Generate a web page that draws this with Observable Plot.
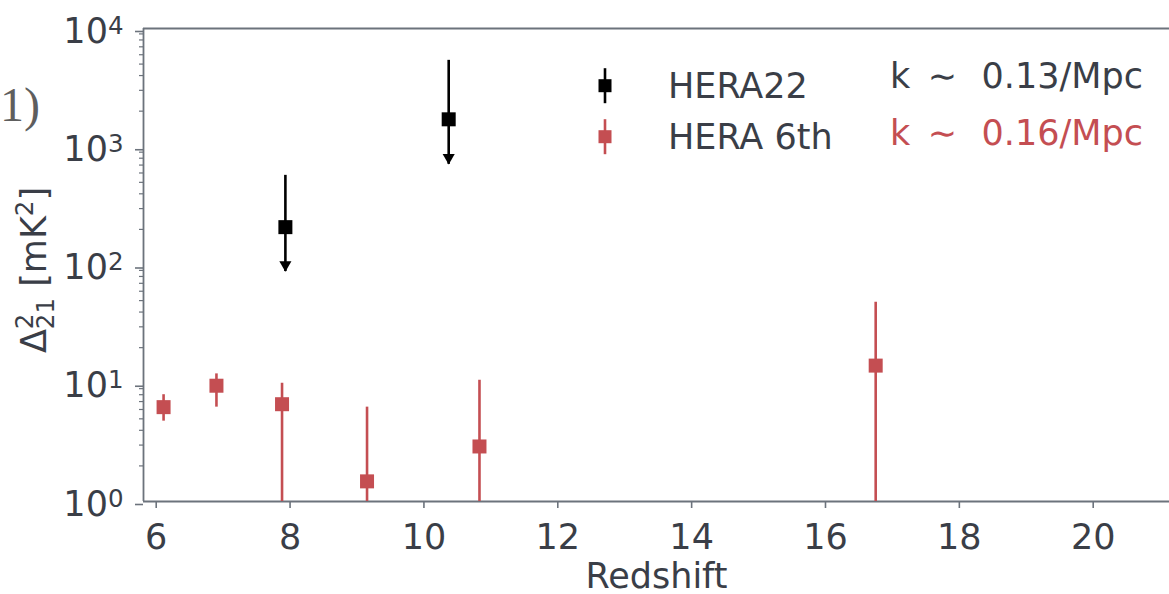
<!DOCTYPE html>
<html><head><meta charset="utf-8">
<script src="https://cdn.jsdelivr.net/npm/d3@7"></script>
<script src="https://cdn.jsdelivr.net/npm/@observablehq/plot@0.6"></script>
<style>
body{margin:0;background:#fff;}
#wrap{position:relative;width:1169px;height:594px;overflow:hidden;}
</style>
</head><body><div id="wrap"></div>
<script>
// HERA22 (k ~ 0.13/Mpc), upper limits
const redshiftHera22 = [7.93, 10.37];
const powerHera22 = [209, 1706];
const upperHera22 = [573, 5380];
const lowerHera22 = [88, 710];

// HERA 6th (k ~ 0.16/Mpc); lower errors below 1 run off the axis
const redshiftHera6 = [6.11, 6.90, 7.88, 9.15, 10.83, 16.75];
const powerHera6 = [6.28, 9.53, 6.65, 1.48, 2.92, 14.1];
const upperHera6 = [8.0, 12.0, 10.0, 6.28, 10.6, 48.5];
const lowerHera6 = [4.78, 6.28, 0.1, 0.1, 0.1, 0.1];

const xTicks = [6, 8, 10, 12, 14, 16, 18, 20];
const yTicks = [1, 10, 100, 1000, 10000];
const yMinorTicks = [2,3,4,5,6,7,8,9,20,30,40,50,60,70,80,90,200,300,400,500,600,700,800,900,2000,3000,4000,5000,6000,7000,8000,9000];

const legendLabels = ["HERA22", "HERA 6th"];
const kLabels = ["k\u2002\u223C\u2002\u20090.13/Mpc", "k\u2002\u223C\u2002\u20090.16/Mpc"];

const RED = "#c44e52", BLACK = "#000000", TEXT = "#3a3e47", SPINE = "#6c737c";
const FS = 35;

const hera22 = redshiftHera22.map((z, i) => ({z, p: powerHera22[i], hi: upperHera22[i], lo: lowerHera22[i]}));
const hera6 = redshiftHera6.map((z, i) => ({z, p: powerHera6[i], hi: upperHera6[i], lo: lowerHera6[i]}));

const xDomain = [5.81, 21.14];

const plot = Plot.plot({
  width: 1169, height: 594,
  marginLeft: 143, marginRight: 0, marginTop: 28, marginBottom: 93,
  style: {fontFamily: "DejaVu Sans", fontSize: FS + "px", color: TEXT, background: "white", overflow: "visible"},
  x: {domain: xDomain},
  y: {type: "log", domain: [1, 1e4]},
  marks: [
    Plot.axisX({ticks: xTicks, tickSize: 7, tickPadding: 16, stroke: SPINE, strokeWidth: 1.6, fill: TEXT,
      tickFormat: d => String(d), label: "Redshift", labelAnchor: "center", labelArrow: "none", labelOffset: 86}),
    Plot.axisY({ticks: yTicks, tickSize: 8, tickPadding: 12, stroke: SPINE, strokeWidth: 1.6, fill: TEXT, dy: 3,
      tickFormat: d => "10^" + Math.round(Math.log10(d)), label: null}),
    Plot.axisY({ticks: yMinorTicks, tickSize: 4, stroke: SPINE, strokeWidth: 1.2, text: null, label: null}),
    Plot.ruleY([1e4], {stroke: SPINE, strokeWidth: 1.8}),
    Plot.ruleY([1], {stroke: SPINE, strokeWidth: 1.8}),
    Plot.ruleX([xDomain[0]], {stroke: SPINE, strokeWidth: 1.8}),
    Plot.ruleX(hera6, {x: "z", y1: "lo", y2: "hi", stroke: RED, strokeWidth: 2.6, clip: true}),
    Plot.dot(hera6, {x: "z", y: "p", symbol: "square", r: 7.9, fill: RED, stroke: "none"}),
    Plot.ruleX(hera22, {x: "z", y1: "lo", y2: "hi", stroke: BLACK, strokeWidth: 2.6, clip: true}),
    Plot.dot(hera22, {x: "z", y: "lo", symbol: "triangle", rotate: 180, r: 4.5, dy: -6.9, fill: BLACK, stroke: "none"}),
    Plot.dot(hera22, {x: "z", y: "p", symbol: "square", r: 7.9, fill: BLACK, stroke: "none"})
  ]
});

document.getElementById("wrap").appendChild(plot);
const svg = d3.select(plot);

// superscripted y tick labels
svg.selectAll('g[aria-label="y-axis tick label"] text').each(function() {
  const t = d3.select(this);
  const s = t.text();
  const [base, exp] = s.split("^");
  t.text(null);
  t.append("tspan").text(base);
  t.append("tspan").attr("font-size", 24.5).attr("dy", -9).text(exp);
});

// y-axis label
const yl = svg.append("text")
  .attr("transform", "translate(46,270) rotate(-90)")
  .attr("text-anchor", "middle")
  .attr("fill", TEXT)
  .attr("font-family", "DejaVu Sans")
  .attr("font-size", FS);
yl.append("tspan").text("\u0394");
yl.append("tspan").attr("font-size", 24.5).attr("dy", -13).text("2");
yl.append("tspan").attr("font-size", 24.5).attr("dx", -15.6).attr("dy", 21).text("21");
yl.append("tspan").attr("dy", -8).text("\u00A0[mK");
yl.append("tspan").attr("font-size", 24.5).attr("dy", -13).text("2");
yl.append("tspan").attr("dy", 13).text("]");

// stray panel label fragment
svg.append("text").attr("x", 0).attr("y", 121).attr("text-anchor", "start")
  .attr("font-family", "Liberation Serif").attr("font-size", 48).attr("fill", "#5e5e5e").text("1)");

// legend
const legendColors = [BLACK, RED];
const legendY = [85.7, 136.7];
const g = svg.append("g").attr("text-anchor", "start");
legendLabels.forEach((lab, i) => {
  const cy = legendY[i];
  g.append("line").attr("x1", 605).attr("x2", 605).attr("y1", cy - 17.5).attr("y2", cy + 17.5)
    .attr("stroke", legendColors[i]).attr("stroke-width", 2.6);
  g.append("rect").attr("x", 605 - 6.5).attr("y", cy - 6.5).attr("width", 13).attr("height", 13)
    .attr("fill", legendColors[i]);
  g.append("text").attr("x", 668).attr("y", cy + 12).attr("text-anchor", "start")
    .attr("font-family", "DejaVu Sans").attr("font-size", FS).attr("fill", TEXT).text(lab);
});
const kColors = [TEXT, RED];
const kY = [88.3, 145];
kLabels.forEach((lab, i) => {
  g.append("text").attr("x", 890).attr("y", kY[i]).attr("text-anchor", "start")
    .attr("font-family", "DejaVu Sans").attr("font-size", FS).attr("fill", kColors[i]).text(lab);
});
</script>
</body></html>
